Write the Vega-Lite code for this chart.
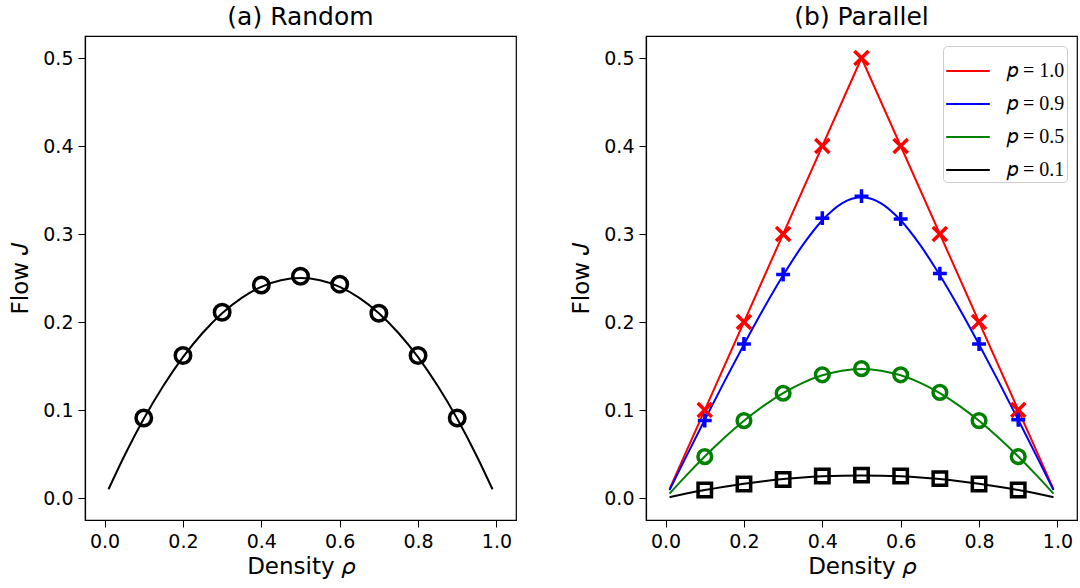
{
  "$schema": "https://vega.github.io/schema/vega-lite/v6.json",
  "padding": {"left": 9, "top": 4, "right": 2, "bottom": 2},
  "background": "white",
  "config": {
    "font": "DejaVu Sans",
    "view": {"stroke": "black", "strokeWidth": 1.2},
    "axis": {
      "grid": false, "domainColor": "black", "tickColor": "black", "labelColor": "black", "titleColor": "black",
      "labelFont": "DejaVu Sans", "labelFontSize": 19, "titleFont": "DejaVu Sans", "titleFontSize": 23, "titleFontWeight": "normal",
      "tickSize": 7, "labelPadding": 5, "domainWidth": 1.2, "titlePadding": 10
    },
    "axisX": {"titlePadding": 4},
    "title": {"font": "DejaVu Sans", "fontSize": 25, "fontWeight": "normal", "color": "black", "offset": 6}
  },
  "datasets": {
    "curveA": [
      {"rho": 0.01, "J": 0.0099}, {"rho": 0.05, "J": 0.0475}, {"rho": 0.1, "J": 0.09}, {"rho": 0.15, "J": 0.1275},
      {"rho": 0.2, "J": 0.16}, {"rho": 0.25, "J": 0.1875}, {"rho": 0.3, "J": 0.21}, {"rho": 0.35, "J": 0.2275},
      {"rho": 0.4, "J": 0.24}, {"rho": 0.45, "J": 0.2475}, {"rho": 0.5, "J": 0.25}, {"rho": 0.55, "J": 0.2475},
      {"rho": 0.6, "J": 0.24}, {"rho": 0.65, "J": 0.2275}, {"rho": 0.7, "J": 0.21}, {"rho": 0.75, "J": 0.1875},
      {"rho": 0.8, "J": 0.16}, {"rho": 0.85, "J": 0.1275}, {"rho": 0.9, "J": 0.09}, {"rho": 0.95, "J": 0.0475},
      {"rho": 0.99, "J": 0.0099}
    ],
    "markA": [
      {"rho": 0.1, "J": 0.091}, {"rho": 0.2, "J": 0.162}, {"rho": 0.3, "J": 0.211}, {"rho": 0.4, "J": 0.242},
      {"rho": 0.5, "J": 0.252}, {"rho": 0.6, "J": 0.243}, {"rho": 0.7, "J": 0.210}, {"rho": 0.8, "J": 0.162},
      {"rho": 0.9, "J": 0.091}
    ],
    "curveB": [
      {"p": "p = 1.0", "rho": 0.01, "J": 0.01}, {"p": "p = 1.0", "rho": 0.5, "J": 0.5}, {"p": "p = 1.0", "rho": 0.99, "J": 0.01},
      {"p": "p = 0.9", "rho": 0.01, "J": 0.00899}, {"p": "p = 0.9", "rho": 0.05, "J": 0.04476}, {"p": "p = 0.9", "rho": 0.1, "J": 0.0889},
      {"p": "p = 0.9", "rho": 0.15, "J": 0.13223}, {"p": "p = 0.9", "rho": 0.2, "J": 0.17443}, {"p": "p = 0.9", "rho": 0.25, "J": 0.21496},
      {"p": "p = 0.9", "rho": 0.3, "J": 0.25302}, {"p": "p = 0.9", "rho": 0.35, "J": 0.28728}, {"p": "p = 0.9", "rho": 0.4, "J": 0.31561},
      {"p": "p = 0.9", "rho": 0.45, "J": 0.33492}, {"p": "p = 0.9", "rho": 0.475, "J": 0.34012}, {"p": "p = 0.9", "rho": 0.5, "J": 0.34189},
      {"p": "p = 0.9", "rho": 0.525, "J": 0.34012}, {"p": "p = 0.9", "rho": 0.55, "J": 0.33492}, {"p": "p = 0.9", "rho": 0.6, "J": 0.31561},
      {"p": "p = 0.9", "rho": 0.65, "J": 0.28728}, {"p": "p = 0.9", "rho": 0.7, "J": 0.25302}, {"p": "p = 0.9", "rho": 0.75, "J": 0.21496},
      {"p": "p = 0.9", "rho": 0.8, "J": 0.17443}, {"p": "p = 0.9", "rho": 0.85, "J": 0.13223}, {"p": "p = 0.9", "rho": 0.9, "J": 0.0889},
      {"p": "p = 0.9", "rho": 0.95, "J": 0.04476}, {"p": "p = 0.9", "rho": 0.99, "J": 0.00899},
      {"p": "p = 0.5", "rho": 0.01, "J": 0.00497}, {"p": "p = 0.5", "rho": 0.05, "J": 0.02434}, {"p": "p = 0.5", "rho": 0.1, "J": 0.04723},
      {"p": "p = 0.5", "rho": 0.15, "J": 0.06843}, {"p": "p = 0.5", "rho": 0.2, "J": 0.08769}, {"p": "p = 0.5", "rho": 0.25, "J": 0.10472},
      {"p": "p = 0.5", "rho": 0.3, "J": 0.11921}, {"p": "p = 0.5", "rho": 0.35, "J": 0.13088}, {"p": "p = 0.5", "rho": 0.4, "J": 0.13944},
      {"p": "p = 0.5", "rho": 0.45, "J": 0.14469}, {"p": "p = 0.5", "rho": 0.5, "J": 0.14645}, {"p": "p = 0.5", "rho": 0.55, "J": 0.14469},
      {"p": "p = 0.5", "rho": 0.6, "J": 0.13944}, {"p": "p = 0.5", "rho": 0.65, "J": 0.13088}, {"p": "p = 0.5", "rho": 0.7, "J": 0.11921},
      {"p": "p = 0.5", "rho": 0.75, "J": 0.10472}, {"p": "p = 0.5", "rho": 0.8, "J": 0.08769}, {"p": "p = 0.5", "rho": 0.85, "J": 0.06843},
      {"p": "p = 0.5", "rho": 0.9, "J": 0.04723}, {"p": "p = 0.5", "rho": 0.95, "J": 0.02434}, {"p": "p = 0.5", "rho": 0.99, "J": 0.00497},
      {"p": "p = 0.1", "rho": 0.01, "J": 0.00099}, {"p": "p = 0.1", "rho": 0.05, "J": 0.00478}, {"p": "p = 0.1", "rho": 0.1, "J": 0.00908},
      {"p": "p = 0.1", "rho": 0.15, "J": 0.01291}, {"p": "p = 0.1", "rho": 0.2, "J": 0.01626}, {"p": "p = 0.1", "rho": 0.25, "J": 0.01912},
      {"p": "p = 0.1", "rho": 0.3, "J": 0.02146}, {"p": "p = 0.1", "rho": 0.35, "J": 0.02329}, {"p": "p = 0.1", "rho": 0.4, "J": 0.0246},
      {"p": "p = 0.1", "rho": 0.45, "J": 0.0254}, {"p": "p = 0.1", "rho": 0.5, "J": 0.02566}, {"p": "p = 0.1", "rho": 0.55, "J": 0.0254},
      {"p": "p = 0.1", "rho": 0.6, "J": 0.0246}, {"p": "p = 0.1", "rho": 0.65, "J": 0.02329}, {"p": "p = 0.1", "rho": 0.7, "J": 0.02146},
      {"p": "p = 0.1", "rho": 0.75, "J": 0.01912}, {"p": "p = 0.1", "rho": 0.8, "J": 0.01626}, {"p": "p = 0.1", "rho": 0.85, "J": 0.01291},
      {"p": "p = 0.1", "rho": 0.9, "J": 0.00908}, {"p": "p = 0.1", "rho": 0.95, "J": 0.00478}, {"p": "p = 0.1", "rho": 0.99, "J": 0.00099}
    ],
    "markB": [
      {"param": "1.0", "rho": 0.1, "J": 0.1}, {"param": "1.0", "rho": 0.2, "J": 0.2}, {"param": "1.0", "rho": 0.3, "J": 0.3},
      {"param": "1.0", "rho": 0.4, "J": 0.4}, {"param": "1.0", "rho": 0.5, "J": 0.5}, {"param": "1.0", "rho": 0.6, "J": 0.4},
      {"param": "1.0", "rho": 0.7, "J": 0.3}, {"param": "1.0", "rho": 0.8, "J": 0.2}, {"param": "1.0", "rho": 0.9, "J": 0.1},
      {"param": "0.9", "rho": 0.1, "J": 0.088}, {"param": "0.9", "rho": 0.2, "J": 0.175}, {"param": "0.9", "rho": 0.3, "J": 0.254},
      {"param": "0.9", "rho": 0.4, "J": 0.318}, {"param": "0.9", "rho": 0.5, "J": 0.343}, {"param": "0.9", "rho": 0.6, "J": 0.317},
      {"param": "0.9", "rho": 0.7, "J": 0.255}, {"param": "0.9", "rho": 0.8, "J": 0.175}, {"param": "0.9", "rho": 0.9, "J": 0.089},
      {"param": "0.5", "rho": 0.1, "J": 0.047}, {"param": "0.5", "rho": 0.2, "J": 0.088}, {"param": "0.5", "rho": 0.3, "J": 0.119},
      {"param": "0.5", "rho": 0.4, "J": 0.140}, {"param": "0.5", "rho": 0.5, "J": 0.147}, {"param": "0.5", "rho": 0.6, "J": 0.140},
      {"param": "0.5", "rho": 0.7, "J": 0.120}, {"param": "0.5", "rho": 0.8, "J": 0.088}, {"param": "0.5", "rho": 0.9, "J": 0.047},
      {"param": "0.1", "rho": 0.1, "J": 0.009}, {"param": "0.1", "rho": 0.2, "J": 0.016}, {"param": "0.1", "rho": 0.3, "J": 0.021},
      {"param": "0.1", "rho": 0.4, "J": 0.025}, {"param": "0.1", "rho": 0.5, "J": 0.026}, {"param": "0.1", "rho": 0.6, "J": 0.025},
      {"param": "0.1", "rho": 0.7, "J": 0.022}, {"param": "0.1", "rho": 0.8, "J": 0.016}, {"param": "0.1", "rho": 0.9, "J": 0.009}
    ]
  },
  "spacing": 53,
  "resolve": {"scale": {"color": "independent", "stroke": "independent", "shape": "independent", "size": "independent"},
              "legend": {"color": "independent", "stroke": "independent", "shape": "independent", "size": "independent"}},
  "hconcat": [
    {
      "title": "(a) Random",
      "width": 431, "height": 484,
      "layer": [
        {
          "data": {"name": "curveA"},
          "mark": {"type": "line", "color": "black", "strokeWidth": 2, "interpolate": "monotone"},
          "encoding": {
            "x": {"field": "rho", "type": "quantitative", "scale": {"domain": [-0.05, 1.05], "nice": false, "zero": false},
                  "axis": {"title": "Density 𝜌", "values": [0, 0.2, 0.4, 0.6, 0.8, 1.0], "format": ".1f"}},
            "y": {"field": "J", "type": "quantitative", "scale": {"domain": [-0.025, 0.525], "nice": false, "zero": false},
                  "axis": {"title": "Flow 𝐽", "values": [0, 0.1, 0.2, 0.3, 0.4, 0.5], "format": ".1f"}}
          }
        },
        {
          "data": {"name": "markA"},
          "mark": {"type": "point", "shape": "circle", "filled": false, "stroke": "black", "strokeWidth": 3.5, "size": 240, "opacity": 1},
          "encoding": {
            "x": {"field": "rho", "type": "quantitative"},
            "y": {"field": "J", "type": "quantitative"}
          }
        }
      ]
    },
    {
      "title": "(b) Parallel",
      "width": 431, "height": 484,
      "layer": [
        {
          "data": {"name": "curveB"},
          "transform": [{"filter": "datum.p == 'p = 1.0'"}],
          "mark": {"type": "line", "strokeWidth": 2, "interpolate": "linear"},
          "encoding": {
            "x": {"field": "rho", "type": "quantitative", "scale": {"domain": [-0.05, 1.05], "nice": false, "zero": false},
                  "axis": {"title": "Density 𝜌", "values": [0, 0.2, 0.4, 0.6, 0.8, 1.0], "format": ".1f"}},
            "y": {"field": "J", "type": "quantitative", "scale": {"domain": [-0.025, 0.525], "nice": false, "zero": false},
                  "axis": {"title": "Flow 𝐽", "values": [0, 0.1, 0.2, 0.3, 0.4, 0.5], "format": ".1f"}},
            "color": {"field": "p", "type": "nominal",
                      "scale": {"domain": ["p = 1.0", "p = 0.9", "p = 0.5", "p = 0.1"], "range": ["#ff0000", "#0000ff", "#008000", "#000000"]},
                      "legend": {"title": null, "orient": "top-right", "offset": 10, "padding": 2, "strokeColor": "#cccccc", "fillColor": "white",
                                 "cornerRadius": 4, "symbolType": "stroke", "symbolSize": 1900, "symbolStrokeWidth": 2,
                                 "labelFont": "Liberation Serif", "labelFontSize": 20, "labelColor": "black", "labelOffset": 16, "rowPadding": -17,
                                 "labelExpr": "replace(datum.label, 'p = ', '𝑝 = ')"}}
          }
        },
        {
          "data": {"name": "curveB"},
          "transform": [{"filter": "datum.p != 'p = 1.0'"}],
          "mark": {"type": "line", "strokeWidth": 2, "interpolate": "monotone"},
          "encoding": {
            "x": {"field": "rho", "type": "quantitative"},
            "y": {"field": "J", "type": "quantitative"},
            "color": {"field": "p", "type": "nominal"}
          }
        },
        {
          "data": {"name": "markB"},
          "mark": {"type": "point", "filled": false, "strokeWidth": 3.5, "opacity": 1},
          "encoding": {
            "x": {"field": "rho", "type": "quantitative"},
            "y": {"field": "J", "type": "quantitative"},
            "stroke": {"field": "param", "type": "nominal",
                       "scale": {"domain": ["1.0", "0.9", "0.5", "0.1"], "range": ["#ff0000", "#0000ff", "#008000", "#000000"]},
                       "legend": null},
            "shape": {"field": "param", "type": "nominal",
                      "scale": {"domain": ["1.0", "0.9", "0.5", "0.1"], "range": ["M-1,-1L1,1M-1,1L1,-1", "M-1,0L1,0M0,-1L0,1", "circle", "square"]},
                      "legend": null},
            "size": {"field": "param", "type": "nominal",
                     "scale": {"domain": ["1.0", "0.9", "0.5", "0.1"], "range": [200, 180, 240, 225]},
                     "legend": null}
          }
        }
      ]
    }
  ]
}
